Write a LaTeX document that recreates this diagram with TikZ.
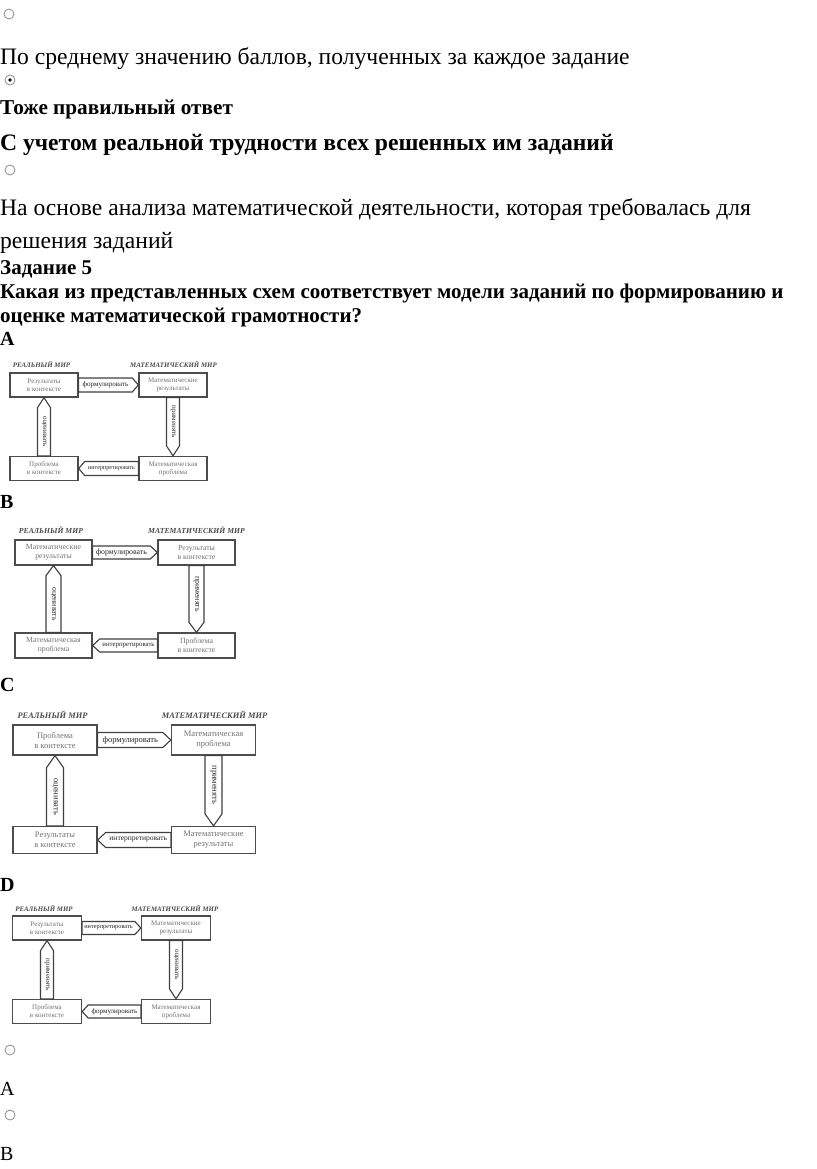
\documentclass[tikz,border=0pt]{standalone}
\usepackage{fontspec}
\setmainfont{Liberation Serif}
\usetikzlibrary{calc}
\newcommand\hArrow[5]{%
  \draw[arrowbody] ($(#1)+(0,#3)$) -- ($(#2)+(#4,#3)$) -- (#2) -- ($(#2)+(#4,-#3)$) -- ($(#1)+(0,-#3)$) -- cycle;
  \path (#1) -- ($(#2)+(#4,0)$) node[midway,lbl]{#5};}
\newcommand\vArrow[5]{%
  \draw[arrowbody] ($(#1)+(#3,0)$) -- ($(#2)+(#3,#4)$) -- (#2) -- ($(#2)+(-#3,#4)$) -- ($(#1)+(-#3,0)$) -- cycle;
  \path (#1) -- ($(#2)+(0,#4)$) node[midway,lbl,rotate=-90]{#5};}
\tikzset{
 box/.style={draw=black!70, line width=1.3pt, fill=white, align=center, inner sep=0pt, text=black!55},
 arrowbody/.style={draw=black!75, line width=1.1pt, fill=white, line join=miter},
 lbl/.style={inner sep=0pt, text=black!85},
 hdr/.style={inner sep=0pt, text=black!70},
 txt/.style={anchor=base west, inner sep=0pt},
 radio/.style={circle, draw=black!45, line width=0.8pt, minimum size=10pt, inner sep=0pt},
}
\begin{document}
\begin{tikzpicture}[x=1pt,y=-1pt]
\fill[white] (0,0) rectangle (816,1169);
\useasboundingbox (0,0) rectangle (816,1169);

% question text
\node[radio] (r1) at (9,14) {};
\node[txt, font=\fontsize{23.6}{28}\selectfont] (t1) at (0,65) {По среднему значению баллов, полученных за каждое задание};
\node[radio] (r2) at (10,80) {};
\fill (r2.center) circle (1.8);
\node[txt, font=\bfseries\fontsize{21.2}{25}\selectfont] (t2) at (0,115) {Тоже правильный ответ};
\node[txt, font=\bfseries\fontsize{23.6}{28}\selectfont] (t3) at (0,151) {С учетом реальной трудности всех решенных им заданий};
\node[radio] (r3) at (10,170) {};
\node[txt, font=\fontsize{23.6}{28}\selectfont] (t4) at (0,215) {На основе анализа математической деятельности, которая требовалась для};
\node[txt, font=\fontsize{23.6}{28}\selectfont] (t5) at (0,248) {решения заданий};
\node[txt, font=\bfseries\fontsize{21}{25}\selectfont] (t6) at (0,274) {Задание 5};
\node[txt, font=\bfseries\fontsize{21}{25}\selectfont] (t7) at (0,298) {Какая из представленных схем соответствует модели заданий по формированию и};
\node[txt, font=\bfseries\fontsize{21}{25}\selectfont] (t8) at (0,322) {оценке математической грамотности?};
\node[txt, font=\bfseries\fontsize{20}{24}\selectfont] (lA) at (0,345) {A};
\node[txt, font=\bfseries\fontsize{20}{24}\selectfont] (lB) at (0,508) {B};
\node[txt, font=\bfseries\fontsize{20}{24}\selectfont] (lC) at (0,691) {C};
\node[txt, font=\bfseries\fontsize{20}{24}\selectfont] (lD) at (0,891) {D};

% Diagram A
\begin{scope}[box/.append style={font=\fontsize{7}{8}\selectfont, minimum width=68, minimum height=24},
  lbl/.append style={font=\fontsize{7}{7}\selectfont},
  hdr/.append style={font=\bfseries\itshape\fontsize{6.9}{8}\selectfont}]
\node[hdr] (aR) at (41.5,364.5) {РЕАЛЬНЫЙ МИР};
\node[hdr] (aM) at (173.5,364.5) {МАТЕМАТИЧЕСКИЙ МИР};
\node[box] (aTL) at (44,385) {Результаты\\в контексте};
\node[box] (aTR) at (173,385) {Математические\\результаты};
\node[box] (aBL) at (44,468.5) {Проблема\\в контексте};
\node[box] (aBR) at (173,468.5) {Математическая\\проблема};
\hArrow{aTL.east}{aTR.west}{7}{-6}{формулировать}
\vArrow{aTR.south}{aBR.north}{6.5}{-10}{применять}
\hArrow{aBR.west}{aBL.east}{7}{6}{\fontsize{6.1}{6}\selectfont интерпретировать}
\vArrow{aBL.north}{aTL.south}{6.5}{10}{оценивать}
\end{scope}

% Diagram B
\begin{scope}[box/.append style={font=\fontsize{7.8}{9}\selectfont, minimum width=77, minimum height=25},
  lbl/.append style={font=\fontsize{7.8}{8}\selectfont},
  hdr/.append style={font=\bfseries\itshape\fontsize{7.7}{9}\selectfont}]
\node[hdr] (bR) at (51,530) {РЕАЛЬНЫЙ МИР};
\node[hdr] (bM) at (196.5,530) {МАТЕМАТИЧЕСКИЙ МИР};
\node[box] (bTL) at (53.5,552.5) {Математические\\результаты};
\node[box] (bTR) at (196.5,552.5) {Результаты\\в контексте};
\node[box] (bBL) at (53.5,645.5) {Математическая\\проблема};
\node[box] (bBR) at (196.5,645.5) {Проблема\\в контексте};
\hArrow{bTL.east}{bTR.west}{6.5}{-7}{формулировать}
\vArrow{bTR.south}{bBR.north}{7.5}{-10}{применять}
\hArrow{bBR.west}{bBL.east}{6.5}{7}{\fontsize{6.8}{7}\selectfont интерпретировать}
\vArrow{bBL.north}{bTL.south}{7.5}{10}{оценивать}
\end{scope}

% Diagram C
\begin{scope}[box/.append style={font=\fontsize{8.5}{10}\selectfont, minimum width=84},
  lbl/.append style={font=\fontsize{8.5}{9}\selectfont},
  hdr/.append style={font=\bfseries\itshape\fontsize{8.4}{10}\selectfont}]
\node[hdr] (cR) at (52.5,715) {РЕАЛЬНЫЙ МИР};
\node[hdr] (cM) at (214.5,715) {МАТЕМАТИЧЕСКИЙ МИР};
\node[box, minimum height=30] (cTL) at (55,740) {Проблема\\в контексте};
\node[box, minimum height=30] (cTR) at (213.5,740) {Математическая\\проблема};
\node[box, minimum height=27] (cBL) at (55,840) {Результаты\\в контексте};
\node[box, minimum height=27] (cBR) at (213.5,840) {Математические\\результаты};
\hArrow{cTL.east}{cTR.west}{7.5}{-8}{формулировать}
\vArrow{cTR.south}{cBR.north}{8.5}{-12}{применять}
\hArrow{cBR.west}{cBL.east}{7.5}{8}{\fontsize{7.5}{8}\selectfont интерпретировать}
\vArrow{cBL.north}{cTL.south}{8.5}{12}{оценивать}
\end{scope}

% Diagram D
\begin{scope}[box/.append style={font=\fontsize{7}{8}\selectfont, minimum width=69, minimum height=24},
  lbl/.append style={font=\fontsize{7}{7}\selectfont},
  hdr/.append style={font=\bfseries\itshape\fontsize{6.9}{8}\selectfont}]
\node[hdr] (dR) at (44,908) {РЕАЛЬНЫЙ МИР};
\node[hdr] (dM) at (175,908) {МАТЕМАТИЧЕСКИЙ МИР};
\node[box] (dTL) at (47,928) {Результаты\\в контексте};
\node[box] (dTR) at (176,928) {Математические\\результаты};
\node[box] (dBL) at (47,1011.5) {Проблема\\в контексте};
\node[box] (dBR) at (176,1011.5) {Математическая\\проблема};
\hArrow{dTL.east}{dTR.west}{6.5}{-6}{\fontsize{6.3}{6}\selectfont интерпретировать}
\vArrow{dTR.south}{dBR.north}{6.5}{-10}{оценивать}
\hArrow{dBR.west}{dBL.east}{6.5}{6}{формулировать}
\vArrow{dBL.north}{dTL.south}{6.5}{10}{применять}
\end{scope}

% answers
\node[radio] (r4) at (10,1050) {};
\node[txt, font=\fontsize{20}{24}\selectfont] (aA) at (0,1095) {A};
\node[radio] (r5) at (10,1115) {};
\node[txt, font=\fontsize{20}{24}\selectfont] (aB) at (0,1160) {B};
\end{tikzpicture}
\end{document}
